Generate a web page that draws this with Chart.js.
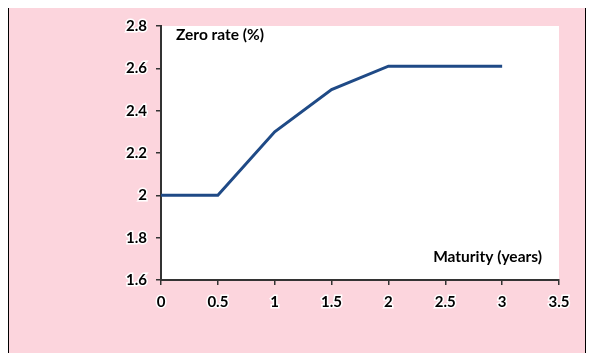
<!DOCTYPE html>
<html>
<head>
<meta charset="utf-8">
<script src="https://cdn.jsdelivr.net/npm/chart.js@4"></script>
<style>
  html, body { margin: 0; padding: 0; background: #fff; }
  #frame {
    position: absolute; left: 8px; top: 8px; width: 576px; height: 345px;
    background: #fcd5dd; border-left: 1px solid #000; border-right: 1px solid #000;
  }
  canvas { display: block; }
</style>
</head>
<body>
<div id="frame"><canvas id="curva" width="576" height="345"></canvas></div>
<script>
// Datos de la curva
const vencimientos = [0, 0.5, 1, 1.5, 2, 3];
const tasas = [2.0, 2.0, 2.3, 2.5, 2.61, 2.61];
const tituloY = 'Zero rate (%)';
const tituloX = 'Maturity (years)';

const fuente = { family: 'Lato, "Open Sans", sans-serif', size: 15, weight: 'bold' };

// Fondo blanco del area del grafico y titulos dentro del area
const plugFondo = {
    id: 'plugFondo',
    beforeDraw(chart) {
        const a = chart.chartArea;
        const ctx = chart.ctx;
        ctx.save();
        ctx.fillStyle = '#fff';
        ctx.fillRect(a.left, a.top, a.right - a.left, a.bottom - a.top);
        ctx.restore();
    },
    afterDraw(chart) {
        const a = chart.chartArea;
        const ctx = chart.ctx;
        ctx.save();
        ctx.font = 'bold 15.5px Lato, "Open Sans", sans-serif';
        ctx.fillStyle = '#000';
        ctx.textBaseline = 'middle';
        ctx.textAlign = 'left';
        ctx.fillText(tituloY, a.left + 15, a.top + 9);
        ctx.textAlign = 'right';
        ctx.fillText(tituloX, a.right - 17, a.bottom - 23);
        ctx.restore();
    }
};

new Chart(document.getElementById('curva'), {
    type: 'line',
    data: {
        datasets: [{
            data: vencimientos.map((x, i) => ({ x: x, y: tasas[i] })),
            borderColor: '#1f4a86',
            borderWidth: 3,
            pointRadius: 0,
            tension: 0,
            fill: false
        }]
    },
    options: {
        responsive: false,
        animation: false,
        layout: { padding: { top: 18, right: 26, left: 0, bottom: 0 } },
        plugins: { legend: { display: false }, tooltip: { enabled: false } },
        scales: {
            x: {
                type: 'linear',
                min: 0, max: 3.5,
                ticks: {
                    stepSize: 0.5,
                    color: '#000',
                    font: fuente,
                    padding: 8,
                    textStrokeColor: '#fff',
                    textStrokeWidth: 3,
                    callback: v => String(Math.round(v * 10) / 10)
                },
                grid: { drawOnChartArea: false, tickLength: 5, color: '#333', lineWidth: 1.5 },
                border: { display: true, color: '#333', width: 2 },
                afterFit(scale) { scale.height = 73; }
            },
            y: {
                min: 1.6, max: 2.8,
                ticks: {
                    stepSize: 0.2,
                    color: '#000',
                    font: fuente,
                    padding: 9,
                    textStrokeColor: '#fff',
                    textStrokeWidth: 3,
                    callback: v => String(Math.round(v * 10) / 10)
                },
                grid: { drawOnChartArea: false, tickLength: 5, color: '#333', lineWidth: 1.5 },
                border: { display: true, color: '#333', width: 2 },
                afterFit(scale) { scale.width = 152; }
            }
        }
    },
    plugins: [plugFondo]
});
</script>
</body>
</html>
